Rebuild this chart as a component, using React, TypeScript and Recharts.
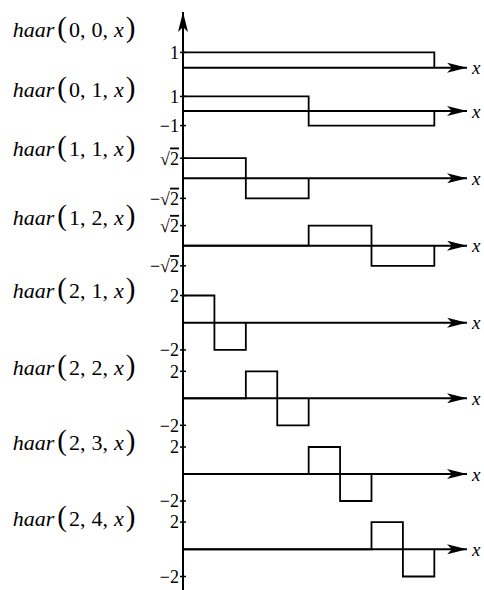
import { ComposedChart, Line, XAxis, YAxis, ReferenceLine } from "recharts";

// haar(j, k, x) panels, top to bottom
const haarJ = [0, 0, 1, 1, 2, 2, 2, 2];
const haarK = [0, 1, 1, 2, 1, 2, 3, 4];

// breakpoints of each step function and the value that starts there
const stepX = [
  [0, 1],
  [0, 0.5, 1],
  [0, 0.25, 0.5],
  [0, 0.5, 0.75, 1],
  [0, 0.125, 0.25],
  [0, 0.25, 0.375, 0.5],
  [0, 0.5, 0.625, 0.75],
  [0, 0.75, 0.875, 1],
];
const stepY = [
  [1, 0],
  [1, -1, 0],
  [1.414, -1.414, 0],
  [0, 1.414, -1.414, 0],
  [2, -2, 0],
  [0, 2, -2, 0],
  [0, 2, -2, 0],
  [0, 2, -2, 0],
];

const tickValues = [[1], [1, -1], [1.414, -1.414], [1.414, -1.414], [2, -2], [2, -2], [2, -2], [2, -2]];
const tickText = [["1"], ["1", "−1"], ["√2", "−√2"], ["√2", "−√2"], ["2", "−2"], ["2", "−2"], ["2", "−2"], ["2", "−2"]];

// layout: pixel row of each panel's zero line, pixels per unit, label baseline
const zeroY = [67.7, 111, 178.3, 245.7, 322.7, 398.3, 474, 549.3];
const unitPx = [15.3, 14.6, 14.2, 14.2, 13.6, 13.5, 13.5, 13.6];
const labelY = [36.5, 96.7, 156, 225, 298, 375, 450, 526];

const W = 484;
const H = 590;
const TOP = 12;
const AXIS_X = 183;
const RIGHT = 17;
const FONT = "'Liberation Serif', 'Times New Roman', serif";

const panelData = stepX.map((xs, i) => xs.map((x, n) => ({ x, v: stepY[i][n] })));

const HaarTick = ({ y, payload, values, labels }: any) => {
  const idx = values.indexOf(payload.value);
  const text: string = labels[idx] ?? "";
  const root = text.indexOf("√");
  const x = AXIS_X;
  return (
    <g>
      <line x1={x - 3} x2={x + 3} y1={y} y2={y} stroke="#000" strokeWidth={1.5} />
      <text x={x - 4} y={y} dy="0.35em" textAnchor="end" fontFamily={FONT} fontSize={18} fill="#000">
        {root < 0 ? (
          text
        ) : (
          <>
            <tspan>{text.slice(0, root + 1)}</tspan>
            <tspan style={{ textDecoration: "overline" }}>{text.slice(root + 1)}</tspan>
          </>
        )}
      </text>
    </g>
  );
};

export default function App() {
  return (
    <div style={{ position: "absolute", left: 0, top: 0, width: W, height: H, background: "#fff" }}>
      <ComposedChart
        width={W}
        height={H}
        margin={{ top: TOP, right: RIGHT, bottom: 0, left: AXIS_X - zeroY.length }}
      >
        <defs>
          <marker
            id="arrowHead"
            viewBox="0 0 20 10"
            refX={20}
            refY={5}
            markerWidth={20}
            markerHeight={10}
            markerUnits="userSpaceOnUse"
            orient="auto-start-reverse"
          >
            <path d="M0,0 L20,5 L0,10 L5,5 Z" fill="#000" />
          </marker>
        </defs>
        <XAxis dataKey="x" type="number" domain={[0, 1.13]} allowDataOverflow hide />
        {zeroY.map((z, i) => (
          <YAxis
            key={`y${i}`}
            yAxisId={`p${i}`}
            type="number"
            width={1}
            domain={[-(H - z) / unitPx[i], (z - TOP) / unitPx[i]]}
            allowDataOverflow
            ticks={tickValues[i]}
            tickSize={0}
            tickMargin={0}
            tickLine={false}
            interval={0}
            axisLine={i === 0 ? { stroke: "#000", strokeWidth: 2, markerStart: "url(#arrowHead)" } : false}
            tick={(p: any) => <HaarTick {...p} values={tickValues[i]} labels={tickText[i]} />}
          />
        ))}
        {zeroY.map((_, i) => (
          <ReferenceLine
            key={`r${i}`}
            yAxisId={`p${i}`}
            y={0}
            stroke="#000"
            strokeWidth={2}
            markerEnd="url(#arrowHead)"
            label={{ value: "x", position: "right", fill: "#000", fontSize: 19, fontStyle: "italic", fontFamily: FONT }}
          />
        ))}
        {panelData.map((d, i) => (
          <Line
            key={`l${i}`}
            yAxisId={`p${i}`}
            data={d}
            dataKey="v"
            type="stepAfter"
            stroke="#000"
            strokeWidth={1.8}
            dot={false}
            activeDot={false}
            isAnimationActive={false}
          />
        ))}
      </ComposedChart>
      <svg width={W} height={H} style={{ position: "absolute", left: 0, top: 0, pointerEvents: "none" }}>
        {labelY.map((y, i) => (
          <text key={i} x={12.7} y={y} fontFamily={FONT} fontSize={22} fill="#000">
            <tspan fontStyle="italic">haar</tspan>
            <tspan dx={3} fontSize={29}>(</tspan>
            <tspan dx={2}>{haarJ[i]}</tspan>
            <tspan>,</tspan>
            <tspan dx={6}>{haarK[i]}</tspan>
            <tspan>,</tspan>
            <tspan dx={6} fontStyle="italic">x</tspan>
            <tspan dx={2} fontSize={29}>)</tspan>
          </text>
        ))}
      </svg>
    </div>
  );
}
